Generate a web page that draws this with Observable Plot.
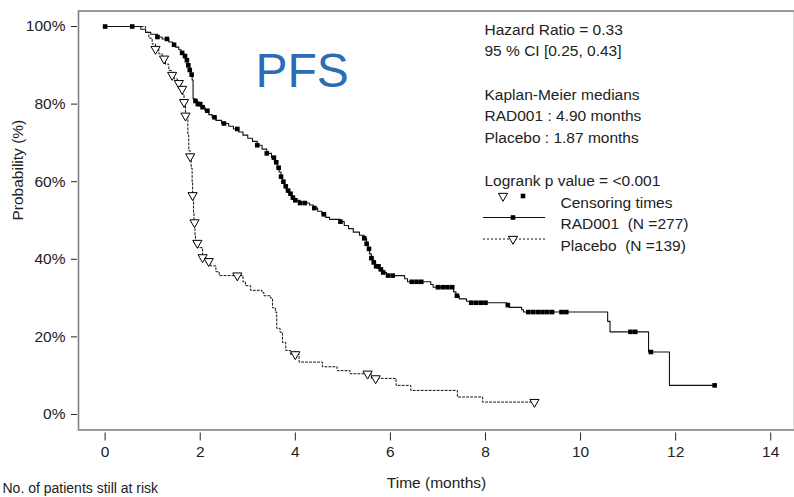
<!DOCTYPE html>
<html><head><meta charset="utf-8">
<script src="https://cdn.jsdelivr.net/npm/d3@7"></script>
<script src="https://cdn.jsdelivr.net/npm/@observablehq/plot@0.6"></script>
<style>
html,body{margin:0;padding:0;background:#fff;overflow:hidden}
#chart svg{display:block;overflow:visible}
</style></head><body><div id="chart"></div>
<script>
// RAD001 Kaplan-Meier steps (time in months, survival %)
const radTimes = [0,0.75,0.85,0.96,1.1,1.2,1.34,1.42,1.48,1.55,1.6,1.65,1.69,1.73,1.77,1.8,1.83,1.85,1.9,1.95,2.02,2.1,2.18,2.25,2.33,2.45,2.6,2.7,2.81,2.9,3.0,3.1,3.2,3.3,3.4,3.5,3.56,3.62,3.66,3.7,3.73,3.77,3.81,3.86,3.92,3.98,4.1,4.3,4.38,4.47,4.56,4.64,4.72,4.95,5.03,5.12,5.22,5.35,5.45,5.5,5.53,5.56,5.6,5.64,5.69,5.76,5.84,5.92,6.3,6.36,6.85,6.9,7.33,7.38,7.45,7.6,7.7,8.45,8.5,8.76,8.8,10.57,10.62,11.43,11.87];
const radSurv  = [100,99.3,98.5,98,97.3,96.8,96,95.3,94.7,94,93.2,92.4,91.3,90,88.8,87.6,86.2,81.4,80.8,80,79.2,78.3,77.3,76.6,75.8,75,74.3,73.6,72.8,72,71.2,70.4,69.4,68.4,67.3,66.2,65,63.6,62.5,61.3,60,58.8,57.7,56.9,55.9,55.2,54.5,54,53.2,52.4,51.6,50.8,50.3,49.7,48.7,47.9,47,46.2,45.4,44,42.7,41.4,40.3,39.2,38.2,37.4,36.6,35.8,35,34.2,33.5,32.8,31.6,30.6,29.8,29.2,28.8,28.2,27.6,27,26.4,24,21.3,16.1,7.5];
const radLastTime = 12.82;
const radCensor = [0,0.57,1.1,1.3,1.45,1.62,1.68,1.72,1.75,1.78,1.82,1.9,1.95,2.0,2.05,2.15,2.3,2.5,2.78,3.2,3.4,3.55,3.6,3.65,3.7,3.75,3.8,3.85,3.9,3.95,4.0,4.1,4.2,4.4,4.6,4.95,5.45,5.5,5.55,5.6,5.65,5.7,5.75,5.8,5.85,5.95,6.05,6.45,6.55,6.65,7.0,7.1,7.2,7.3,7.4,7.7,7.8,7.9,8.0,8.47,8.9,9.0,9.1,9.2,9.3,9.4,9.6,9.7,11.05,11.15,11.48,12.82];

// Placebo Kaplan-Meier steps
const plaTimes = [0,0.85,0.92,0.99,1.06,1.13,1.2,1.27,1.34,1.4,1.45,1.52,1.59,1.63,1.66,1.69,1.74,1.76,1.79,1.81,1.83,1.84,1.86,1.87,1.89,1.9,1.95,2.05,2.12,2.22,2.33,2.4,2.9,2.95,3.06,3.3,3.34,3.48,3.52,3.58,3.61,3.68,3.73,3.8,3.9,4.08,4.57,4.88,5.15,5.6,6.12,6.43,7.41,7.94];
const plaSurv  = [100,98.5,97,95.5,94.2,93,91.7,90.3,88.7,87.5,86.5,85.4,83.9,82.5,80.5,77,72,68,66.5,63.5,60,56.5,52,49.5,46,44.2,43,40.5,39.5,38.3,36.8,35.8,34.2,33.2,32,31.4,30.6,30,27.5,26.4,22.2,21.2,18.6,16.5,15.5,13.5,12.3,11.3,10.5,9.3,7.5,6.2,4.5,3.2];
const plaLastTime = 9.03;
const plaCensor = [1.06,1.24,1.41,1.55,1.62,1.66,1.69,1.79,1.84,1.88,1.94,2.05,2.18,2.78,4.0,5.52,5.69,9.03];

const xTicks = [0,2,4,6,8,10,12,14];
const yTicks = [0,20,40,60,80,100];
const legendText = ["Hazard Ratio = 0.33","95 % CI [0.25, 0.43]","","Kaplan-Meier medians","RAD001 : 4.90 months","Placebo : 1.87 months","","Logrank p value = <0.001"];
const seriesLabels = ["Censoring times","RAD001  (N =277)","Placebo  (N =139)"];

function steps(times, surv, last){
  const d = times.map((t,i)=>({t, s:surv[i]}));
  d.push({t:last, s:surv[surv.length-1]});
  return d;
}
function survAt(times, surv, t){
  let s = surv[0];
  for (let i=0;i<times.length;i++) if (times[i] <= t) s = surv[i];
  return s;
}
const radData = steps(radTimes, radSurv, radLastTime);
const plaData = steps(plaTimes, plaSurv, plaLastTime);
const radCens = radCensor.map(t=>({t, s:survAt(radTimes, radSurv, t)}));
const plaCens = plaCensor.map(t=>({t, s:survAt(plaTimes, plaSurv, t)}));

const W = 794, H = 497, ML = 78, MT = 10.5;
const FONT = "'Liberation Sans', Arial, Helvetica, sans-serif";
const FS = 15.5;
const ink = "#222";
function label(txt, x, y, o={}){
  return Plot.text([txt], {text:d=>d, frameAnchor:"top-left", dx:x-ML, dy:y-MT, textAnchor:"start", fontSize:FS, fill:ink, ...o});
}
const lineY = [23,44.5,66,88,109.5,131,152.5,174];
const legendMarks = legendText.map((t,i)=> t ? label(t, 484, lineY[i]) : null).filter(Boolean);

const chart = Plot.plot({
  width: W, height: H,
  marginLeft: ML, marginRight: 0, marginTop: MT, marginBottom: H-429.5,
  x: {domain: [-0.56, 14.5]},
  y: {domain: [-4, 104]},
  style: {fontFamily: FONT, fontSize: FS+"px", color: ink, background: "#fff"},
  marks: [
    Plot.frame({stroke:"#808080", strokeWidth:1.6}),
    Plot.axisY(yTicks, {tickFormat:d=>d+"%", tickSize:6, tickPadding:6, dx:-1, fontSize:FS, label:null}),
    Plot.axisX(xTicks, {tickSize:8, tickPadding:5, dy:3, fontSize:FS, label:null}),
    Plot.line(plaData, {x:"t", y:"s", curve:"step-after", stroke:"#111", strokeWidth:1, strokeDasharray:"2,2"}),
    Plot.line(radData, {x:"t", y:"s", curve:"step-after", stroke:"#111", strokeWidth:1.1}),
    Plot.dot(radCens, {x:"t", y:"s", symbol:"square", r:2.6, fill:"#000"}),
    Plot.dot(plaCens, {x:"t", y:"s", symbol:"triangle", rotate:180, r:3.4, fill:"white", stroke:"#000", strokeWidth:1}),
    Plot.text(["Probability (%)"], {text:d=>d, frameAnchor:"left", dx:18-ML, rotate:-90, fontSize:FS, fill:ink}),
    Plot.text(["Time (months)"], {text:d=>d, frameAnchor:"bottom", dy:487-429.5, fontSize:FS, fill:ink}),
    label("No. of patients still at risk", 2, 483, {fontSize:14}),
    label("PFS", 255, 52.5, {fontSize:48, fill:"#2b6cb5"}),
    ...legendMarks,
    label(seriesLabels[0], 560, 196),
    label(seriesLabels[1], 560, 217.5),
    label(seriesLabels[2], 560, 239)
  ]
});
document.getElementById("chart").appendChild(chart);

// legend keys (decorations)
const svg = d3.select(chart);
const g = svg.append("g");
const sq = d3.symbol(d3.symbolSquare, Math.PI*2.6*2.6);
const tri = d3.symbol(d3.symbolTriangle, Math.PI*3.4*3.4);
g.append("path").attr("d", tri()).attr("transform","translate(503,196) rotate(180)").attr("fill","white").attr("stroke","#000");
g.append("path").attr("d", sq()).attr("transform","translate(523,196)").attr("fill","#000");
g.append("line").attr("x1",483).attr("x2",545).attr("y1",217.5).attr("y2",217.5).attr("stroke","#111").attr("stroke-width",1.1);
g.append("path").attr("d", sq()).attr("transform","translate(513,217.5)").attr("fill","#000");
g.append("line").attr("x1",483).attr("x2",545).attr("y1",239).attr("y2",239).attr("stroke","#111").attr("stroke-dasharray","2,2");
g.append("path").attr("d", tri()).attr("transform","translate(513,239) rotate(180)").attr("fill","white").attr("stroke","#000");
</script></body></html>
